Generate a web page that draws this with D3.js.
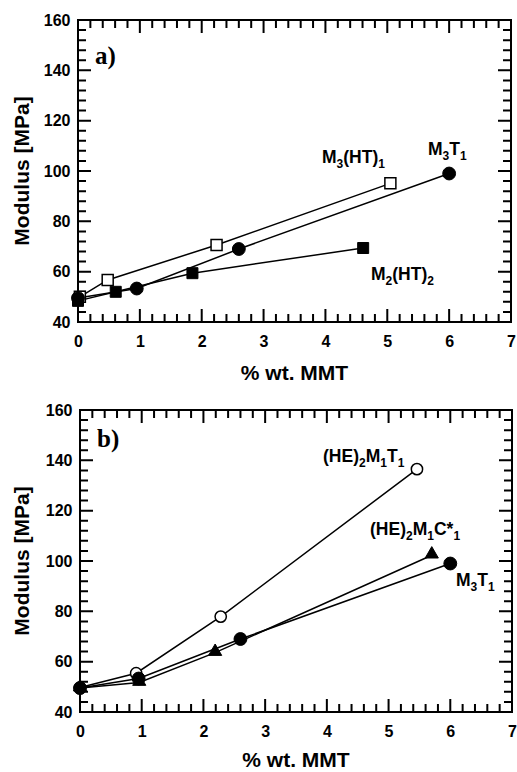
<!DOCTYPE html>
<html><head><meta charset="utf-8">
<script src="https://cdn.jsdelivr.net/npm/d3@7"></script>
<style>body{margin:0;background:#fff}</style>
</head><body>
<svg id="c" width="517" height="772" xmlns="http://www.w3.org/2000/svg"></svg>
<script>
// ---- data ----
const xTicks = [0, 1, 2, 3, 4, 5, 6, 7];
const yTicks = [40, 60, 80, 100, 120, 140, 160];
const xTitle = "% wt. MMT";
const yTitle = "Modulus [MPa]";

// panel a
const aM3T1X = [0, 0.95, 2.6, 6.0];
const aM3T1Y = [49.5, 53.3, 69, 99];
const aM3HT1X = [0.03, 0.48, 2.24, 5.05];
const aM3HT1Y = [50, 56.7, 70.6, 95.1];
const aM2HT2X = [0, 0.61, 1.85, 4.61];
const aM2HT2Y = [48.4, 52, 59.4, 69.4];

// panel b
const bHE2M1T1X = [0, 0.91, 2.28, 5.46];
const bHE2M1T1Y = [49.7, 55.4, 77.9, 136.5];
const bM3T1X = [0, 0.95, 2.6, 6.0];
const bM3T1Y = [49.5, 53.3, 69, 99];
const bHE2M1C1X = [0, 0.96, 2.19, 5.7];
const bHE2M1C1Y = [49.5, 51.7, 63.6, 102.3];

const zip = (xs, ys) => xs.map((x, i) => [x, ys[i]]);

const svg = d3.select("#c");
const FONT = "'Liberation Sans', Arial, Helvetica, sans-serif";

function drawPanel(cfg) {
  const x = d3.scaleLinear().domain([0, 7]).range([cfg.left, cfg.right]);
  const y = d3.scaleLinear().domain([40, 160]).range([cfg.bottom, cfg.top]);
  const g = svg.append("g");

  const xMinor = d3.range(1, 35).map(i => i / 5).filter(v => Math.abs(v - Math.round(v)) > 1e-6);
  const yMinor = d3.range(0, 31).map(i => 40 + 4 * i).filter(v => (v - 40) % 20 !== 0);
  const MAJ = 13, MIN = 8;

  // tick labels through d3 axes
  g.append("g").attr("transform", `translate(0,${cfg.bottom})`)
    .call(d3.axisBottom(x).tickValues(xTicks).tickSize(0).tickPadding(14).tickFormat(d3.format("d")))
    .call(s => s.select(".domain").remove())
    .call(s => s.selectAll("text").attr("font-family", FONT).attr("font-weight", "bold").attr("font-size", 16).attr("fill", "#000"));
  g.append("g").attr("transform", `translate(${cfg.left},0)`)
    .call(d3.axisLeft(y).tickValues(yTicks).tickSize(0).tickPadding(7.5).tickFormat(d3.format("d")))
    .call(s => s.select(".domain").remove())
    .call(s => s.selectAll("text").attr("font-family", FONT).attr("font-weight", "bold").attr("font-size", 16).attr("fill", "#000"));

  // frame and tick marks in one single path
  const p = d3.path();
  p.rect(cfg.left, cfg.top, cfg.right - cfg.left, cfg.bottom - cfg.top);
  const xt = xTicks.map(v => [v, MAJ]).concat(xMinor.map(v => [v, MIN]));
  const yt = yTicks.map(v => [v, MAJ]).concat(yMinor.map(v => [v, MIN]));
  xt.forEach(([v, L]) => {
    const px = x(v);
    p.moveTo(px, cfg.bottom); p.lineTo(px, cfg.bottom - L);
    p.moveTo(px, cfg.top); p.lineTo(px, cfg.top + L);
  });
  yt.forEach(([v, L]) => {
    const py = y(v);
    p.moveTo(cfg.left, py); p.lineTo(cfg.left + L, py);
    p.moveTo(cfg.right, py); p.lineTo(cfg.right - L, py);
  });
  g.append("path").attr("d", p.toString()).style("fill", "none")
    .attr("stroke", "#000").attr("stroke-width", 2);

  // lines
  const line = d3.line().x(d => x(d[0])).y(d => y(d[1]));
  cfg.series.forEach(s => {
    g.append("path").datum(s.data).attr("d", line)
      .style("fill", "none").attr("stroke", "#000").attr("stroke-width", 1.5);
  });
  // markers
  cfg.series.forEach(s => {
    const sym = d3.symbol().type(s.type).size(s.size);
    g.selectAll(null).data(s.data).join("path")
      .attr("transform", d => `translate(${x(d[0])},${y(d[1]) + (s.dy || 0)})`)
      .attr("d", sym)
      .attr("fill", s.open ? "#fff" : "#000")
      .attr("stroke", "#000").attr("stroke-width", s.open ? 1.5 : 1);
  });

  // series labels
  cfg.labels.forEach(L => {
    const t = g.append("text").attr("x", L.x).attr("y", L.y)
      .attr("font-family", FONT).attr("font-weight", "bold").attr("font-size", 17.5).attr("fill", "#000");
    let shifted = false;
    L.parts.forEach(pt => {
      const isSub = pt[1];
      const ts = t.append("tspan").text(pt[0]);
      if (isSub) { ts.attr("font-size", 12).attr("dy", shifted ? 0 : 5); shifted = true; }
      else { ts.attr("dy", shifted ? -5 : 0); shifted = false; }
    });
  });

  // panel letter
  g.append("text").attr("x", cfg.left + 17).attr("y", cfg.letterY)
    .attr("font-family", "'Liberation Serif', 'Times New Roman', serif").attr("font-weight", "bold")
    .attr("font-size", 25).attr("fill", "#000").text(cfg.letter);

  // axis titles
  g.append("text").attr("x", (cfg.left + cfg.right) / 2).attr("y", cfg.bottom + cfg.titleOff)
    .attr("text-anchor", "middle").attr("font-family", FONT).attr("font-weight", "bold")
    .attr("font-size", 21).attr("fill", "#000").text(xTitle);
  g.append("text").attr("transform", `translate(29,${(cfg.top + cfg.bottom) / 2}) rotate(-90)`)
    .attr("text-anchor", "middle").attr("font-family", FONT).attr("font-weight", "bold")
    .attr("font-size", 21).attr("fill", "#000").text(yTitle);
}

const SQ = 121, CIR = 130, OCIR = 100, TRI = 75;

drawPanel({
  left: 78, right: 511, top: 20, bottom: 322, titleOff: 58,
  letter: "a)", letterY: 64,
  series: [
    { data: zip(aM3HT1X, aM3HT1Y), type: d3.symbolSquare, size: SQ, open: true },
    { data: zip(aM3T1X, aM3T1Y), type: d3.symbolCircle, size: CIR, open: false },
    { data: zip(aM2HT2X, aM2HT2Y), type: d3.symbolSquare, size: SQ, open: false }
  ],
  labels: [
    { x: 322, y: 163, parts: [["M", 0], ["3", 1], ["(HT)", 0], ["1", 1]] },
    { x: 428, y: 155, parts: [["M", 0], ["3", 1], ["T", 0], ["1", 1]] },
    { x: 371, y: 280, parts: [["M", 0], ["2", 1], ["(HT)", 0], ["2", 1]] }
  ]
});

drawPanel({
  left: 80, right: 512, top: 410, bottom: 712, titleOff: 55,
  letter: "b)", letterY: 447,
  series: [
    { data: zip(bHE2M1T1X, bHE2M1T1Y), type: d3.symbolCircle, size: OCIR, open: true },
    { data: zip(bM3T1X, bM3T1Y), type: d3.symbolCircle, size: CIR, open: false },
    { data: zip(bHE2M1C1X, bHE2M1C1Y), type: d3.symbolTriangle, size: TRI, open: false, dy: -1 }
  ],
  labels: [
    { x: 323, y: 462, parts: [["(HE)", 0], ["2", 1], ["M", 0], ["1", 1], ["T", 0], ["1", 1]] },
    { x: 370, y: 535, parts: [["(HE)", 0], ["2", 1], ["M", 0], ["1", 1], ["C*", 0], ["1", 1]] },
    { x: 456, y: 586, parts: [["M", 0], ["3", 1], ["T", 0], ["1", 1]] }
  ]
});
</script>
</body></html>
